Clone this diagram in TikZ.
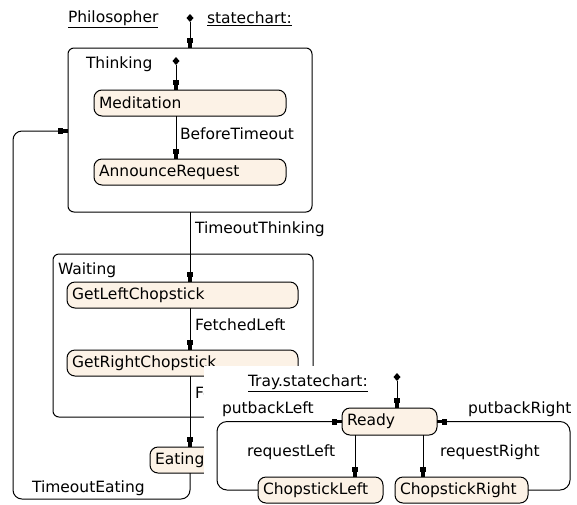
\documentclass[tikz,border=0pt]{standalone}
\usepackage{fontspec}
\setmainfont{DejaVu Sans}
\usetikzlibrary{arrows.meta,shapes.geometric}
\definecolor{stfill}{RGB}{252,242,230}
\begin{document}
\begin{tikzpicture}[x=1pt,y=-1pt,
  every node/.style={font=\fontsize{15.5}{18}\selectfont, outer sep=0pt},
  st/.style={draw, fill=stfill, rounded corners=8pt, minimum height=26pt, inner xsep=5pt, inner ysep=0pt, align=left, text width=#1, line width=1pt},
  comp/.style={draw, rounded corners=6pt, line width=1pt, inner sep=0pt},
  lbl/.style={anchor=west, inner sep=0pt},
  init/.style={diamond, fill=black, inner sep=0pt, minimum width=7pt, minimum height=8pt},
  tr/.style={line width=1pt, -{Rectangle[width=6pt,length=5pt]Rectangle[width=3.5pt,length=5pt]}}
]
\useasboundingbox (0,0) rectangle (577,504);
% Philosopher statechart
\node[lbl] (phil) at (68,19) {\underline{Philosopher}};
\node[lbl] (sc) at (207,19) {\underline{statechart:}};
\node[init] (i1) at (190,18) {};
\node[comp, minimum width=244pt, minimum height=164pt] (thinking) at (190,130) {};
\node[lbl] (thl) at (86,64) {Thinking};
\node[init] (i2) at (176,61) {};
\node[st=182pt] (med) at (190,103) {Meditation};
\node[st=182pt] (ann) at (190,172) {AnnounceRequest};
\node[comp, minimum width=260pt, minimum height=163pt] (waiting) at (183,335.5) {};
\node[lbl] (wl) at (58,270) {Waiting};
\node[st=221pt] (glc) at (182.5,295) {GetLeftChopstick};
\node[st=221pt] (grc) at (182.5,363) {GetRightChopstick};
\node[st=70pt] (eat) at (190,460) {Eating};
\coordinate (lb) at (13,499);
\coordinate (lt) at (13,131);
\draw[tr] (i1) -- (i1 |- thinking.north);
\draw[tr] (i2) -- (i2 |- med.north);
\draw[tr] (med.south -| i2) -- (ann.north -| i2);
\draw[tr] (thinking.south) -- (thinking.south |- glc.north);
\draw[tr] (glc.south -| thinking.south) -- (grc.north -| thinking.south);
\draw[tr] (grc.south -| eat.north) -- (eat.north);
\draw[tr, rounded corners=9pt] (eat.south) -- (eat.south |- lb) -- (lb) -- (lt) -- (thinking.west |- lt);
\node[lbl] (l1) at (180,134) {BeforeTimeout};
\node[lbl] (l2) at (195,229) {TimeoutThinking};
\node[lbl] (l3) at (195,325) {FetchedLeft};
\node[lbl] (l4) at (195,394) {FetchedRight};
\node[lbl] (l5) at (32,488) {TimeoutEating};
% Tray panel
\fill[white] (204,366) rectangle (577,504);
\node[lbl] (tsc) at (248,383) {\underline{Tray.statechart:}};
\node[init] (i3) at (397,377) {};
\node[st=85pt, minimum height=27pt] (ready) at (389.5,421.5) {Ready};
\node[st=115pt] (cl) at (320.5,490) {ChopstickLeft};
\node[st=123pt] (cr) at (461.5,490) {ChopstickRight};
\coordinate (lx) at (217,490);
\coordinate (rx) at (570,490);
\coordinate (rl) at ([xshift=-34.5pt]ready.south);
\coordinate (rr) at ([xshift=33.5pt]ready.south);
\draw[tr] (i3) -- (i3 |- ready.north);
\draw[tr] (rl) -- (rl |- cl.north);
\draw[tr] (rr) -- (rr |- cr.north);
\draw[tr, rounded corners=10pt] (cl.west) -- (lx) |- (ready.west);
\draw[tr, rounded corners=10pt] (cr.east) -- (rx) |- (ready.east);
\node[lbl] (pl) at (222,409) {putbackLeft};
\node[lbl] (pr) at (468,409) {putbackRight};
\node[lbl] (rql) at (247,452) {requestLeft};
\node[lbl] (rqr) at (440,452) {requestRight};
\end{tikzpicture}
\end{document}
